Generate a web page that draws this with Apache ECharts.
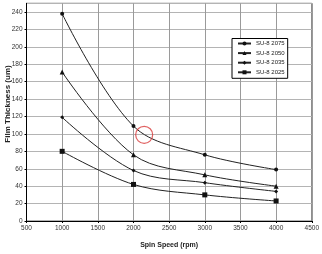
<!DOCTYPE html>
<html><head><meta charset="utf-8">
<script src="https://cdn.jsdelivr.net/npm/echarts@6/dist/echarts.min.js"></script>
<style>html,body{margin:0;padding:0;background:#fff}#c{width:322px;height:254px}</style>
</head><body><div id="c"></div>
<script>
const speeds = [1000, 2000, 3000, 4000];
const su2075 = [238, 109, 76, 59];
const su2050 = [171, 76, 53, 40];
const su2035 = [119, 58, 44, 34];
const su2025 = [80, 42, 30, 23];
const seriesNames = ['SU-8 2075', 'SU-8 2050', 'SU-8 2035', 'SU-8 2025'];
const highlight = [[2150, 99]];

const pairs = arr => speeds.map((s, i) => [s, arr[i]]);
const lineStyle = {color: '#222', width: 1};
function mk(name, arr, symbol, size) {
  return {name, type: 'line', data: pairs(arr), smooth: 0.35, symbol, symbolSize: size,
    showSymbol: true, lineStyle, itemStyle: {color: '#111'}, z: 3};
}
const chart = echarts.init(document.getElementById('c'), null, {renderer: 'canvas'});
chart.setOption({
  animation: false,
  backgroundColor: '#fff',
  grid: {left: 26.5, right: 7, top: 3.3, bottom: 26.3, show: true, borderColor: '#666', borderWidth: 1, backgroundColor: '#fff'},
  xAxis: {type: 'value', min: 500, max: 4500, interval: 500,
    name: 'Spin Speed (rpm)', nameLocation: 'middle', nameGap: 21,
    nameTextStyle: {fontFamily: 'Liberation Sans', fontSize: 7, fontWeight: 'bold', color: '#222'},
    axisLine: {lineStyle: {color: '#000', width: 1}},
    axisTick: {show: true, length: 2, lineStyle: {color: '#000'}},
    axisLabel: {fontFamily: 'Liberation Sans', fontSize: 6.5, color: '#333', margin: 4, formatter: v => String(v)},
    splitLine: {show: true, lineStyle: {color: '#9a9a9a', width: 1}}},
  yAxis: {type: 'value', min: 0, max: 250, interval: 20,
    axisLine: {show: true, lineStyle: {color: '#000', width: 1}},
    axisTick: {show: true, length: 2, lineStyle: {color: '#000'}},
    axisLabel: {fontFamily: 'Liberation Sans', fontSize: 6.5, color: '#333', margin: 4, showMaxLabel: false,
      formatter: v => (v % 20 === 0 ? String(v) : '')},
    splitLine: {show: true, lineStyle: {color: '#b4b4b4', width: 1}}},
  legend: {data: seriesNames, orient: 'vertical', left: 232, top: 38.5,
    itemWidth: 13, itemHeight: 5, itemGap: 3.6, itemTextGap: 2,
    padding: [2, 3, 3, 5], borderColor: '#000', borderWidth: 1, backgroundColor: '#fff',
    textStyle: {fontFamily: 'Liberation Sans', fontSize: 6, color: '#222'}},
  graphic: [{type: 'text', x: 8, y: 104, rotation: Math.PI / 2,
    style: {text: 'Film Thickness (um)', fontFamily: 'Liberation Sans', fontSize: 8, fontWeight: 'bold', fill: '#222',
      textAlign: 'center', textVerticalAlign: 'middle'}}],
  series: [
    mk(seriesNames[0], su2075, 'circle', 4),
    mk(seriesNames[1], su2050, 'triangle', 5),
    mk(seriesNames[2], su2035, 'diamond', 4),
    mk(seriesNames[3], su2025, 'rect', 5),
    {name: 'highlight', type: 'scatter', data: highlight, symbol: 'circle', symbolSize: 17,
      itemStyle: {color: 'rgba(0,0,0,0)', borderColor: '#d83a3a', borderWidth: 1.2}, z: 5}
  ]
});
</script></body></html>
